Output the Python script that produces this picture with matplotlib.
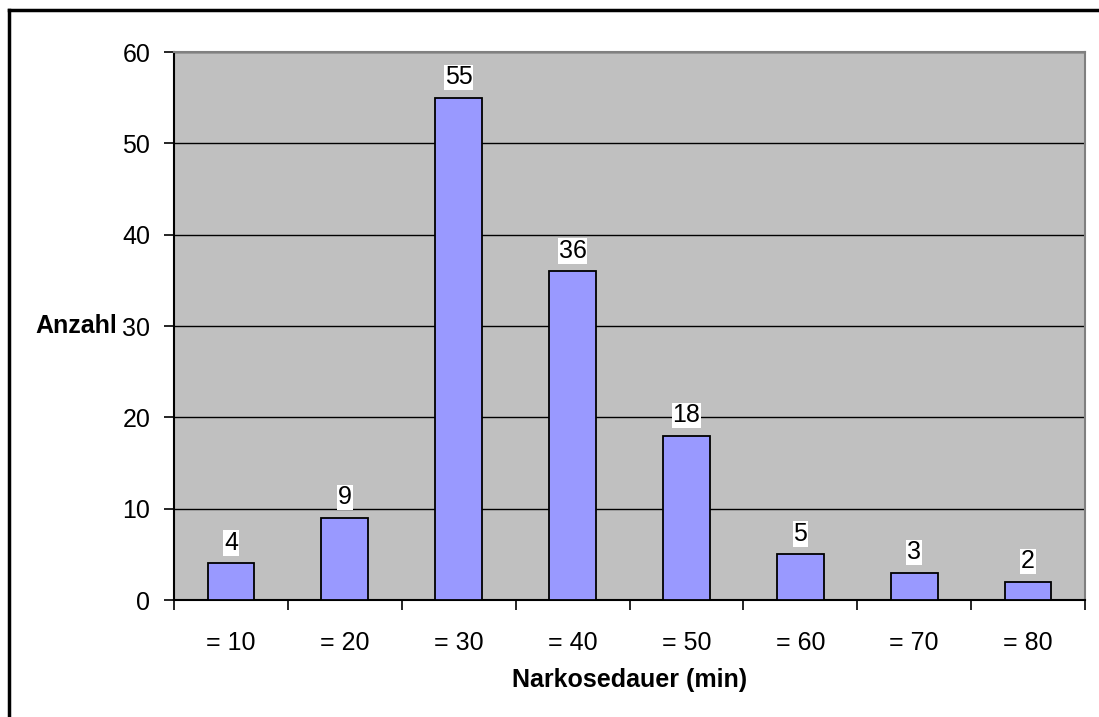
import matplotlib.pyplot as plt
import numpy as np
from matplotlib.lines import Line2D

plt.rcParams['font.family'] = ['Liberation Sans', 'DejaVu Sans']

categories = ['= 10', '= 20', '= 30', '= 40', '= 50', '= 60', '= 70', '= 80']
anzahl = [4, 9, 55, 36, 18, 5, 3, 2]
y_ticks = [0, 10, 20, 30, 40, 50, 60]

fig = plt.figure(figsize=(10.99, 7.17), dpi=100)
ax = fig.add_axes([174 / 1099, 1 - 600 / 717, 911 / 1099, 548 / 717])

# Rahmen oben und links
fx, fy = 9 / 1099, 1 - 10 / 717
fig.add_artist(Line2D([fx, 1.0], [fy, fy], transform=fig.transFigure,
                      color='black', linewidth=2.5))
fig.add_artist(Line2D([fx, fx], [0.0, fy], transform=fig.transFigure,
                      color='black', linewidth=2.5))

x = np.arange(len(categories))
ax.set_facecolor('#C0C0C0')
ax.set_axisbelow(True)
ax.yaxis.grid(True, color='black', linewidth=1)
ax.bar(x, anzahl, width=0.41, color='#9999FF', edgecolor='black',
       linewidth=1.3, zorder=3)

for xi, v in zip(x, anzahl):
    ax.annotate(str(v), (xi, v), xytext=(0, 6), textcoords='offset points',
                ha='center', va='bottom', fontsize=18,
                bbox=dict(facecolor='white', edgecolor='none', pad=0.5))

ax.set_xlim(-0.5, len(categories) - 0.5)
ax.set_ylim(0, 60)
ax.set_yticks(y_ticks)
ax.set_xticks(x)
ax.set_xticklabels(categories)
ax.set_xticks(np.arange(-0.5, len(categories)), minor=True)
ax.tick_params(axis='x', which='major', length=0, pad=22, labelsize=18)
ax.tick_params(axis='x', which='minor', length=7, width=1.2, direction='out')
ax.tick_params(axis='y', length=7, width=1.2, direction='out', pad=10, labelsize=18)

for side in ['left', 'bottom']:
    ax.spines[side].set_linewidth(1.5)
for side in ['top', 'right']:
    ax.spines[side].set_color('#808080')
    ax.spines[side].set_linewidth(1.5)

ax.set_ylabel('Anzahl', rotation=0, fontsize=18, fontweight='bold',
              ha='right', va='center')
ax.yaxis.set_label_coords(-0.062, 0.5)
ax.set_xlabel('Narkosedauer (min)', fontsize=18, fontweight='bold', labelpad=10)

fig.savefig('out.png', dpi=100)
